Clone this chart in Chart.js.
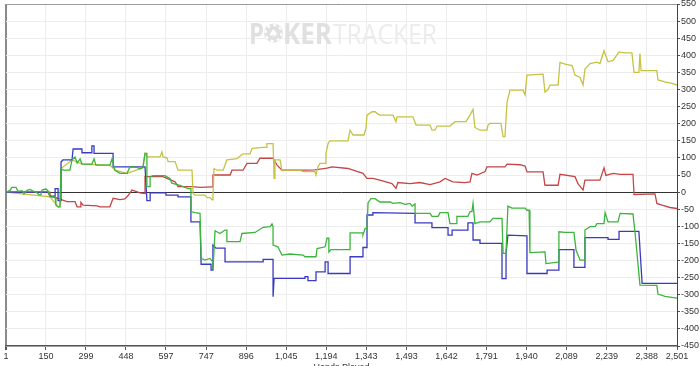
<!DOCTYPE html>
<html>
<head>
<meta charset="utf-8">
<script src="https://cdn.jsdelivr.net/npm/chart.js@4"></script>
<style>
  html, body { margin: 0; padding: 0; background: #fff; }
</style>
</head>
<body>
<canvas id="graph" width="700" height="366"></canvas>
<script>
// x axis tick labels (hands)
const xTicks = [1, 150, 299, 448, 597, 747, 896, 1045, 1194, 1343, 1493, 1642, 1791, 1940, 2089, 2239, 2388, 2501];

// green line
const greenHands = [1,16,23,38,46,61,68,79,90,102,113,124,131,135,150,157,165,184,187,195,202,206,213,239,247,258,266,277,284,321,329,336,388,396,407,426,452,463,489,500,511,519,526,526,538,538,549,593,612,619,649,679,690,690,705,724,728,742,761,772,772,780,798,817,824,824,873,880,929,959,985,992,996,996,1014,1029,1059,1108,1115,1156,1160,1190,1197,1204,1204,1212,1283,1283,1331,1331,1339,1346,1350,1361,1376,1394,1432,1443,1469,1488,1506,1514,1525,1525,1581,1588,1611,1618,1648,1655,1678,1681,1722,1730,1737,1741,1748,1767,1804,1815,1849,1853,1864,1871,1886,1935,1942,1950,1953,2009,2013,2058,2061,2084,2117,2125,2140,2155,2158,2177,2196,2203,2229,2233,2244,2281,2289,2337,2345,2363,2426,2430,2456,2501];
const greenVals = [0,5,14,14,2,4,-5,5,8,3,0,-8,-8,6,9,4,-14,-14,-38,-43,-43,69,64,64,94,103,85,97,82,82,97,79,79,97,64,55,55,74,72,68,72,113,113,16,16,45,48,48,40,26,20,10,10,-57,-60,-62,-194,-199,-194,-205,-228,-113,-121,-111,-111,-145,-145,-121,-118,-103,-101,-93,-101,-155,-160,-184,-181,-184,-189,-189,-165,-160,-135,-135,-175,-168,-168,-119,-119,-125,-106,-106,-31,-19,-19,-29,-29,-33,-31,-36,-33,-41,-35,-62,-62,-71,-71,-60,-60,-92,-92,-71,-71,-57,-57,-33,-92,-87,-87,-77,-77,-179,-179,-41,-47,-47,-53,-53,-177,-175,-209,-205,-116,-118,-118,-170,-199,-199,-111,-101,-101,-92,-92,-60,-87,-87,-62,-64,-121,-272,-273,-298,-305,-310];

// blue line
const blueHands = [1,157,165,184,184,195,195,206,206,213,247,251,284,284,321,321,329,329,400,400,519,526,538,538,597,597,642,642,690,690,724,728,765,765,772,772,783,817,817,959,959,996,996,1000,1115,1115,1126,1126,1156,1156,1190,1190,1201,1201,1283,1283,1331,1331,1346,1346,1368,1368,1525,1525,1588,1588,1648,1648,1663,1663,1722,1722,1741,1741,1767,1767,1849,1849,1864,1864,1871,1942,1942,2017,2017,2061,2061,2117,2117,2158,2158,2244,2244,2285,2285,2359,2371,2501];
const blueVals = [0,0,-12,-12,10,10,-25,-25,88,94,94,126,126,115,115,135,135,113,113,74,74,-25,-25,-2,-2,-9,-9,-14,-14,-87,-87,-211,-211,-228,-228,-155,-164,-164,-204,-204,-197,-197,-306,-252,-252,-247,-247,-259,-259,-233,-233,-204,-204,-238,-238,-189,-189,-162,-162,-67,-67,-60,-62,-90,-90,-104,-104,-126,-126,-111,-111,-90,-90,-140,-140,-150,-150,-253,-253,-179,-126,-128,-238,-238,-228,-228,-168,-168,-220,-220,-133,-133,-138,-138,-115,-115,-267,-267];

// yellow line
const yellowHands = [1,165,195,202,206,247,284,388,407,452,500,511,519,526,575,582,586,601,605,631,642,694,698,705,742,750,761,769,772,776,787,810,824,862,877,884,910,918,959,970,973,996,1000,1003,1022,1029,1096,1108,1152,1156,1163,1171,1190,1193,1201,1208,1275,1283,1294,1335,1342,1346,1365,1376,1387,1394,1443,1454,1458,1517,1529,1581,1588,1599,1607,1655,1674,1715,1730,1741,1748,1767,1793,1797,1804,1845,1853,1860,1868,1879,1927,1935,1942,2002,2009,2020,2028,2058,2065,2084,2110,2121,2140,2151,2158,2177,2203,2214,2229,2244,2263,2285,2307,2333,2341,2359,2363,2367,2426,2430,2456,2482,2501];
const yellowVals = [0,-14,-43,-43,69,94,82,79,64,55,68,72,113,103,103,118,103,100,89,89,64,64,-4,-9,-9,-16,-16,-23,-16,69,64,64,94,98,108,112,112,128,131,131,142,142,40,94,94,64,64,60,60,50,74,84,84,113,142,150,150,181,167,167,186,225,235,235,228,225,225,206,220,220,196,196,181,181,193,193,206,206,226,242,189,181,181,196,201,201,162,162,264,298,298,284,342,345,293,300,313,313,379,374,370,342,335,313,360,376,380,376,413,381,385,410,407,407,350,350,405,355,355,328,322,318,313];

// red line
const redHands = [1,165,165,195,210,228,258,266,277,280,288,340,351,388,400,426,444,456,470,482,500,519,519,586,601,631,642,694,724,769,772,836,843,884,899,936,947,996,1011,1029,1115,1152,1197,1216,1275,1331,1346,1368,1394,1439,1454,1461,1506,1543,1581,1618,1637,1666,1711,1730,1737,1756,1786,1793,1860,1868,1916,1935,1942,2002,2009,2058,2065,2121,2132,2151,2158,2214,2229,2236,2263,2289,2337,2341,2419,2426,2445,2475,2501];
const redVals = [0,0,-12,-18,-23,-28,-28,-43,-43,-30,-38,-40,-43,-43,-18,-22,-20,-10,6,3,-2,-4,45,45,40,30,16,16,14,15,50,50,64,64,84,84,99,99,79,64,64,65,70,74,69,55,40,40,35,25,11,28,25,28,22,30,40,30,28,30,55,50,60,74,74,82,80,76,59,59,20,20,52,45,25,6,35,35,71,49,55,52,52,-7,-5,-33,-38,-45,-48];

const series = (hands, vals) => hands.map((h, i) => ({x: h, y: vals[i]}));

const tickFont = {family: '"Liberation Sans", Arial, sans-serif', size: 9};

const watermark = {
  id: 'watermark',
  beforeDatasetsDraw(chart) {
    const c = chart.ctx;
    c.save();
    c.textBaseline = 'alphabetic';
    c.fillStyle = '#e0e0e0';
    c.font = 'bold 28px "Open Sans"';
    c.fillText('P', 249, 44, 15);
    // chip as the O
    c.beginPath();
    c.arc(273.5, 33, 9.5, 0, Math.PI * 2);
    c.fill();
    c.strokeStyle = '#fff';
    c.lineWidth = 2;
    c.setLineDash([3, 3.2]);
    c.beginPath();
    c.arc(273.5, 33, 8, 0, Math.PI * 2);
    c.stroke();
    c.setLineDash([]);
    c.fillStyle = '#fff';
    c.font = '11px "DejaVu Sans"';
    c.textAlign = 'center';
    c.fillText('\u2660', 273.5, 37);
    c.textAlign = 'left';
    c.fillStyle = '#e0e0e0';
    c.font = 'bold 28px "Open Sans"';
    c.fillText('KER', 283, 44, 49);
    c.fillStyle = '#ececec';
    c.font = '28px "Open Sans"';
    c.fillText('TRACKER', 333, 44, 104);
    c.restore();
  }
};

new Chart(document.getElementById('graph').getContext('2d'), {
  type: 'line',
  data: {
    datasets: [
      {label: 'green', data: series(greenHands, greenVals), borderColor: '#3db43d'},
      {label: 'blue', data: series(blueHands, blueVals), borderColor: '#3a3ac4'},
      {label: 'yellow', data: series(yellowHands, yellowVals), borderColor: '#c6c243'},
      {label: 'red', data: series(redHands, redVals), borderColor: '#c44646'}
    ]
  },
  options: {
    responsive: false,
    animation: false,
    layout: {padding: {left: 6, top: 4, right: 0, bottom: 0}},
    elements: {
      point: {radius: 0},
      line: {borderWidth: 1.3, tension: 0}
    },
    plugins: {legend: {display: false}, tooltip: {enabled: false}},
    scales: {
      x: {
        type: 'linear',
        min: 1,
        max: 2501,
        afterBuildTicks: s => { s.ticks = xTicks.map(v => ({value: v})); },
        afterFit: s => { s.height = 20; s.paddingLeft = 0; s.paddingRight = 0; },
        ticks: {
          autoSkip: false, maxRotation: 0, padding: 1, color: '#333', font: tickFont,
          callback: v => v.toLocaleString('en-US')
        },
        grid: {
          color: c => c.index === 0 ? '#8a8a8a' : '#ededed',
          lineWidth: c => c.index === 0 ? 2 : 1,
          tickColor: '#555',
          tickLength: 4
        },
        border: {color: '#555', width: 1.5},
        title: {display: true, text: 'Hands Played', color: '#333', font: tickFont, padding: {top: 0, bottom: -7}}
      },
      y: {
        position: 'right',
        min: -450,
        max: 550,
        afterFit: s => { s.width = 23; s.paddingTop = 0; s.paddingBottom = 0; },
        ticks: {stepSize: 50, padding: 1, color: '#333', font: tickFont},
        grid: {
          color: c => c.tick.value === 0 ? '#333' : (c.tick.value === 550 ? '#9a9a9a' : '#ededed'),
          tickColor: '#555',
          tickLength: 3
        },
        border: {color: '#444', width: 1}
      }
    }
  },
  plugins: [watermark]
});
</script>
</body>
</html>
